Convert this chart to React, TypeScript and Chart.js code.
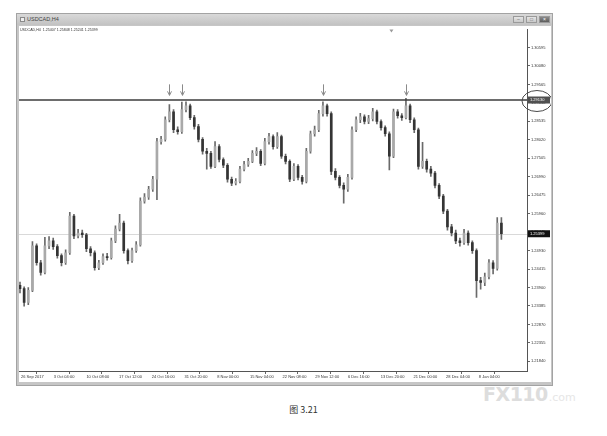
import React, { useEffect, useRef } from "react";
import { Chart, registerables } from "chart.js";
Chart.register(...registerables);

const windowTitle = "USDCAD,H4";
const infoLine = "USDCAD,H4  1.25407 1.25848 1.25241 1.25399";
const captionText = "图 3.21";

const firstOpen = 1.2396;
const closes = [
  1.2387, 1.2348, 1.2382, 1.2506, 1.2459, 1.2432, 1.2506, 1.252, 1.2504, 1.2479,
  1.2459, 1.2487, 1.2589, 1.2534, 1.2542, 1.2537, 1.2498, 1.2487, 1.2445, 1.2459,
  1.2476, 1.2473, 1.252, 1.2553, 1.257, 1.2493, 1.2465, 1.2493, 1.2509, 1.2631,
  1.2642, 1.2664, 1.2692, 1.2797, 1.2803, 1.2858, 1.288, 1.283, 1.2825, 1.2886,
  1.2897, 1.2864, 1.2839, 1.2803, 1.277, 1.2764, 1.2728, 1.2783, 1.2747, 1.2731,
  1.2692, 1.2681, 1.2686, 1.272, 1.2733, 1.2742, 1.2764, 1.277, 1.2736, 1.2797,
  1.2811, 1.2783, 1.2811, 1.2756, 1.2742, 1.2692, 1.2728, 1.2697, 1.2686, 1.277,
  1.2819, 1.283, 1.2875, 1.2897, 1.2875, 1.2714, 1.2697, 1.2675, 1.2664, 1.2697,
  1.283, 1.2858, 1.2866, 1.2853, 1.2861, 1.288, 1.2853, 1.2836, 1.2819, 1.2756,
  1.288, 1.2869, 1.2864, 1.2897, 1.2858, 1.283, 1.2728, 1.2742, 1.272, 1.2709,
  1.2675, 1.2645, 1.2603, 1.2559, 1.2542, 1.252, 1.2515, 1.2542, 1.2515, 1.2493,
  1.2409, 1.2404, 1.242, 1.2459, 1.2443, 1.257, 1.25399,
];
const highs = [
  1.2405, 1.2392, 1.239, 1.2518, 1.2512, 1.2466, 1.253, 1.2532, 1.2528, 1.251,
  1.2484, 1.2495, 1.26, 1.2594, 1.2552, 1.255, 1.2541, 1.2504, 1.2492, 1.2466,
  1.2484, 1.2485, 1.2528, 1.2562, 1.2594, 1.2575, 1.2498, 1.25, 1.2518, 1.264,
  1.2652, 1.2672, 1.27, 1.2806, 1.2812, 1.2866, 1.29, 1.2886, 1.2838, 1.2907,
  1.2908, 1.2902, 1.287, 1.2845, 1.2808, 1.2778, 1.277, 1.2797, 1.2789, 1.2752,
  1.2736, 1.2698, 1.2694, 1.2728, 1.2742, 1.275, 1.2772, 1.278, 1.2775, 1.2806,
  1.282, 1.2816, 1.2822, 1.2815, 1.2762, 1.2746, 1.2736, 1.2733, 1.2703, 1.2778,
  1.2826, 1.284, 1.2884, 1.2908, 1.2902, 1.288, 1.2722, 1.2702, 1.2682, 1.2706,
  1.2838, 1.2866, 1.2876, 1.2872, 1.287, 1.289, 1.2885, 1.2858, 1.2841, 1.2824,
  1.2888, 1.2886, 1.2875, 1.2918, 1.2902, 1.2863, 1.2835, 1.2795, 1.2748, 1.2728,
  1.2714, 1.268, 1.265, 1.2608, 1.2566, 1.255, 1.2528, 1.2552, 1.2548, 1.252,
  1.2498, 1.2418, 1.243, 1.2468, 1.2465, 1.2585, 1.2585,
];
const lows = [
  1.2375, 1.2338, 1.2342, 1.2378, 1.2452, 1.2424, 1.2428, 1.2498, 1.2496, 1.2472,
  1.245, 1.2454, 1.2482, 1.2526, 1.2528, 1.253, 1.249, 1.2478, 1.2438, 1.244,
  1.2454, 1.2466, 1.2469, 1.2515, 1.2548, 1.2486, 1.2456, 1.246, 1.2488, 1.2505,
  1.2625, 1.2636, 1.2658, 1.2635, 1.279, 1.2798, 1.2852, 1.2822, 1.2818, 1.282,
  1.288, 1.2858, 1.2832, 1.2796, 1.2762, 1.272, 1.2722, 1.2724, 1.274, 1.2724,
  1.2684, 1.2674, 1.2676, 1.2682, 1.2715, 1.2728, 1.2738, 1.2758, 1.273, 1.2732,
  1.279, 1.2776, 1.2778, 1.275, 1.2735, 1.2685, 1.2688, 1.269, 1.2678, 1.2682,
  1.2765, 1.2812, 1.2825, 1.2868, 1.2868, 1.2705, 1.269, 1.2668, 1.2625, 1.2658,
  1.2692, 1.2825, 1.285, 1.2846, 1.2847, 1.2855, 1.2846, 1.2829, 1.2812, 1.2718,
  1.2752, 1.2862, 1.2856, 1.286, 1.285, 1.2822, 1.272, 1.2722, 1.2712, 1.27,
  1.2668, 1.2638, 1.2596, 1.255, 1.2534, 1.2512, 1.2505, 1.251, 1.2508, 1.2485,
  1.2362, 1.2385, 1.2395, 1.2414, 1.2428, 1.2438, 1.2524,
];

const xTickLabels = [
  "26 Sep 2017", "3 Oct 04:00", "10 Oct 08:00", "17 Oct 12:00", "24 Oct 16:00",
  "31 Oct 20:00", "8 Nov 00:00", "15 Nov 04:00", "22 Nov 08:00", "29 Nov 12:00",
  "6 Dec 16:00", "13 Dec 20:00", "21 Dec 00:00", "28 Dec 04:00", "8 Jan 04:00",
];
const xTickStep = 7.88; // candles between date labels
const yTickValues = [
  1.30595, 1.3008, 1.29565, 1.2905, 1.28535, 1.2802, 1.27505, 1.2699, 1.26475,
  1.2596, 1.25445, 1.2493, 1.24415, 1.239, 1.23385, 1.2287, 1.22355, 1.2184,
];
const resistanceLevel = 1.2913;
const arrowCandles = [36, 39, 73, 93];
const arrowTipLevel = 1.2926;
const shiftMarkerIndex = 89.5;

const opens = closes.map((c, i) => (i === 0 ? firstOpen : closes[i - 1]));
const lastClose = closes[closes.length - 1];

const FONT = '"Liberation Sans", Arial, sans-serif';

export default function App() {
  const ref = useRef<HTMLCanvasElement | null>(null);

  useEffect(() => {
    const canvas = ref.current;
    if (!canvas) return;

    const overlay = {
      id: "overlay",
      beforeDatasetsDraw(chart: any) {
        const { ctx, chartArea, scales } = chart;
        const y = scales.y.getPixelForValue(lastClose);
        ctx.save();
        ctx.strokeStyle = "#d9d9d9";
        ctx.lineWidth = 1;
        ctx.beginPath();
        ctx.moveTo(chartArea.left, Math.round(y) + 0.5);
        ctx.lineTo(chartArea.right, Math.round(y) + 0.5);
        ctx.stroke();
        ctx.restore();
      },
      afterDatasetsDraw(chart: any) {
        const { ctx, chartArea, scales } = chart;
        const xs = scales.x;
        const ys = scales.y;
        ctx.save();
        const ry = ys.getPixelForValue(resistanceLevel);
        ctx.strokeStyle = "#3c3c3c";
        ctx.lineWidth = 1.6;
        ctx.beginPath();
        ctx.moveTo(chartArea.left, ry);
        ctx.lineTo(chartArea.right, ry);
        ctx.stroke();
        ctx.strokeStyle = "#8a8a8a";
        ctx.lineWidth = 1;
        arrowCandles.forEach((idx) => {
          const px = Math.round(xs.getPixelForValue(idx)) + 0.5;
          const tip = ys.getPixelForValue(arrowTipLevel);
          ctx.beginPath();
          ctx.moveTo(px, tip - 11);
          ctx.lineTo(px, tip);
          ctx.moveTo(px - 2, tip - 4);
          ctx.lineTo(px, tip);
          ctx.lineTo(px + 2, tip - 4);
          ctx.stroke();
        });
        const sx = xs.getPixelForValue(shiftMarkerIndex);
        ctx.fillStyle = "#9a9a9a";
        ctx.beginPath();
        ctx.moveTo(sx - 2, chartArea.top);
        ctx.lineTo(sx + 2, chartArea.top);
        ctx.lineTo(sx, chartArea.top + 3);
        ctx.closePath();
        ctx.fill();
        ctx.restore();
      },
      afterDraw(chart: any) {
        const { ctx, chartArea, scales } = chart;
        const ys = scales.y;
        ctx.save();
        const drawTag = (v: number, bg: string) => {
          const py = ys.getPixelForValue(v);
          ctx.fillStyle = bg;
          ctx.fillRect(chartArea.right + 1, py - 3.5, 22, 7);
          ctx.fillStyle = "#ffffff";
          ctx.font = `4px ${FONT}`;
          ctx.textBaseline = "middle";
          ctx.textAlign = "left";
          ctx.fillText(v.toFixed(5), chartArea.right + 3, py);
        };
        drawTag(resistanceLevel, "#505050");
        drawTag(lastClose, "#111111");
        const ey = ys.getPixelForValue(resistanceLevel);
        ctx.strokeStyle = "#4a4a4a";
        ctx.lineWidth = 1;
        ctx.beginPath();
        ctx.ellipse(chartArea.right + 10, ey + 1, 15, 10.5, 0, 0, Math.PI * 2);
        ctx.stroke();
        ctx.restore();
      },
    };

    const chart = new Chart(canvas, {
      type: "bar",
      data: {
        datasets: [
          {
            label: "wicks",
            data: closes.map((c, i) => ({ x: i, y: [lows[i], highs[i]] })) as any,
            backgroundColor: "#6a6a6a",
            barThickness: 1,
            grouped: false,
            order: 2,
          } as any,
          {
            label: "bodies",
            data: closes.map((c, i) => ({ x: i, y: [opens[i], c] })) as any,
            backgroundColor: closes.map((c, i) => (c >= opens[i] ? "#a9a9a9" : "#343434")),
            borderWidth: 0,
            barThickness: 2,
            grouped: false,
            order: 1,
          } as any,
        ],
      },
      options: {
        animation: false,
        responsive: false,
        devicePixelRatio: 1,
        events: [],
        layout: { padding: { top: 1, left: 0, right: 0, bottom: 0 } },
        plugins: { legend: { display: false }, tooltip: { enabled: false } },
        scales: {
          x: {
            type: "linear",
            min: -0.24,
            max: 122.17,
            offset: false,
            afterBuildTicks: (scale: any) => {
              scale.ticks = xTickLabels.map((_, k) => ({ value: k * xTickStep }));
            },
            afterFit: (scale: any) => {
              scale.height = 11;
            },
            grid: {
              display: true,
              drawOnChartArea: false,
              drawTicks: true,
              tickLength: 3,
              color: "#666",
            },
            border: { display: true, color: "#555" },
            ticks: {
              autoSkip: false,
              maxRotation: 0,
              minRotation: 0,
              align: "start",
              labelOffset: 1,
              padding: 0,
              color: "#333",
              font: { size: 4, family: FONT },
              callback: (_v: any, i: number) => xTickLabels[i],
            },
          },
          y: {
            type: "linear",
            position: "right",
            min: 1.2157,
            max: 1.311,
            afterBuildTicks: (scale: any) => {
              scale.ticks = yTickValues.map((v) => ({ value: v }));
            },
            afterFit: (scale: any) => {
              scale.width = 24;
            },
            grid: {
              display: true,
              drawOnChartArea: false,
              drawTicks: true,
              tickLength: 3,
              color: "#666",
            },
            border: { display: true, color: "#555" },
            ticks: {
              autoSkip: false,
              padding: 1,
              color: "#333",
              font: { size: 4, family: FONT },
              callback: (v: any) => Number(v).toFixed(5),
            },
          },
        },
      } as any,
      plugins: [overlay],
    });
    return () => chart.destroy();
  }, []);

  const btn = (dark: boolean, glyph: string) => (
    <div
      style={{
        width: 11,
        height: 7,
        marginLeft: 2,
        background: dark ? "linear-gradient(#8a8a8a,#5c5c5c)" : "linear-gradient(#e6e6e6,#c9c9c9)",
        border: "1px solid #9a9a9a",
        boxSizing: "border-box",
        color: dark ? "#fff" : "#666",
        fontSize: 5,
        lineHeight: "5px",
        textAlign: "center",
        fontFamily: FONT,
      }}
    >
      {glyph}
    </div>
  );

  return (
    <div
      style={{
        position: "absolute",
        left: 0,
        top: 0,
        width: 607,
        height: 436,
        background: "#ffffff",
        overflow: "hidden",
        fontFamily: FONT,
      }}
    >
      <div
        style={{
          position: "absolute",
          left: 16,
          top: 13,
          width: 537,
          height: 373,
          background: "#c6c6c6",
          border: "1px solid #a3a3a3",
          boxSizing: "border-box",
        }}
      />
      <div
        style={{
          position: "absolute",
          left: 17,
          top: 14,
          width: 535,
          height: 11,
          background: "linear-gradient(#d9d9d9,#c2c2c2)",
          display: "flex",
          alignItems: "center",
        }}
      >
        <div
          style={{
            width: 5,
            height: 5,
            marginLeft: 3,
            border: "1px solid #8a8a8a",
            background: "#eee",
            boxSizing: "border-box",
          }}
        />
        <div style={{ marginLeft: 2, fontSize: 5.5, color: "#444", lineHeight: "11px" }}>{windowTitle}</div>
        <div style={{ flex: 1 }} />
        {btn(false, "–")}
        {btn(false, "□")}
        {btn(true, "×")}
        <div style={{ width: 2 }} />
      </div>
      <div
        style={{
          position: "absolute",
          left: 19,
          top: 26,
          width: 532,
          height: 356,
          background: "#ffffff",
        }}
      >
        <canvas ref={ref} width={532} height={356} style={{ display: "block", width: 532, height: 356 }} />
        <div
          style={{
            position: "absolute",
            left: 1,
            top: 2,
            fontSize: 3.6,
            color: "#333",
            whiteSpace: "pre",
            lineHeight: "5px",
          }}
        >
          {infoLine}
        </div>
      </div>
      <div
        style={{
          position: "absolute",
          left: 0,
          width: 607,
          top: 403,
          textAlign: "center",
          fontSize: 9,
          color: "#333",
          fontFamily: '"Noto Sans CJK SC", "Noto Sans", sans-serif',
        }}
      >
        {captionText}
      </div>
      <div
        style={{
          position: "absolute",
          left: 483,
          top: 383,
          display: "flex",
          alignItems: "baseline",
          color: "#dddddd",
          fontFamily: '"DejaVu Sans", sans-serif',
        }}
      >
        <span style={{ fontSize: 19, fontWeight: 700, letterSpacing: -0.5 }}>FX110</span>
        <span style={{ fontSize: 11, color: "#e6e6e6", marginLeft: 1 }}>.com</span>
      </div>
    </div>
  );
}
